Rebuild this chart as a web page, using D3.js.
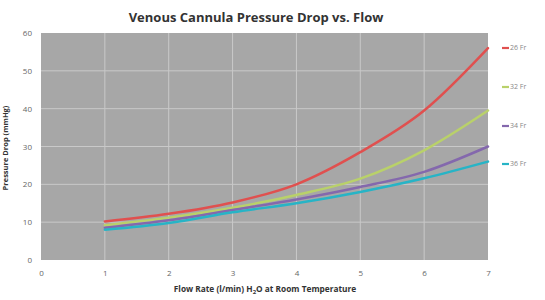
<!DOCTYPE html>
<html><head><meta charset="utf-8">
<script src="https://cdn.jsdelivr.net/npm/d3@7"></script>
<style>body{margin:0;background:#fff}svg{display:block}</style>
</head><body><svg id="c" width="545" height="300"></svg>
<script>
const flow = [1, 2, 3, 4, 5, 6, 7];
const xTicks = [0, 1, 2, 3, 4, 5, 6, 7];
const yTicks = [0, 10, 20, 30, 40, 50, 60];
const seriesNames = ["26 Fr", "32 Fr", "34 Fr", "36 Fr"];
const fr26 = [10.2, 12.2, 15.2, 20.0, 28.5, 39.5, 56.0];
const fr32 = [9.2, 11.2, 13.8, 17.2, 21.5, 29.0, 39.5];
const fr34 = [8.5, 10.5, 13.2, 16.0, 19.3, 23.3, 30.0];
const fr36 = [8.0, 9.8, 12.6, 15.0, 18.0, 21.6, 26.0];
const colors = ["#e0504f", "#b9d16a", "#8468ad", "#27b4c6"];
const series = [fr26, fr32, fr34, fr36];

const svg = d3.select("#c");
const m = {l: 41, r: 57, t: 33, b: 40};
const W = 545, H = 300;
const x = d3.scaleLinear().domain([0, 7]).range([m.l, W - m.r]);
const y = d3.scaleLinear().domain([0, 60]).range([H - m.b, m.t]);
const fmt = d3.format("d");

svg.append("rect").attr("x", x(0)).attr("y", y(60))
  .attr("width", x(7) - x(0)).attr("height", y(0) - y(60)).attr("fill", "#a7a7a7");

svg.append("g").selectAll("line").data(yTicks.slice(1, -1)).join("line")
  .attr("x1", x(0)).attr("x2", x(7)).attr("y1", d => y(d)).attr("y2", d => y(d))
  .attr("stroke", "#c9c9c9").attr("stroke-width", 1);
svg.append("g").selectAll("line").data(xTicks.slice(1, -1)).join("line")
  .attr("y1", y(0)).attr("y2", y(60)).attr("x1", d => x(d)).attr("x2", d => x(d))
  .attr("stroke", "#c9c9c9").attr("stroke-width", 1);

const yAxis = d3.axisLeft(y).tickValues(yTicks).tickFormat(fmt).tickSize(0).tickPadding(9);
const gy = svg.append("g").attr("transform", `translate(${x(0)},0)`).call(yAxis);
gy.select(".domain").remove();
gy.selectAll("text").attr("font-family", "Open Sans, sans-serif").attr("font-size", 8).attr("fill", "#666");

const xAxis = d3.axisBottom(x).tickValues(xTicks).tickFormat(fmt).tickSize(0).tickPadding(10);
const gx = svg.append("g").attr("transform", `translate(0,${y(0)})`).call(xAxis);
gx.select(".domain").remove();
gx.selectAll("text").attr("font-family", "Open Sans, sans-serif").attr("font-size", 8).attr("fill", "#666");

const line = d3.line().x((d, i) => x(flow[i])).y(d => y(d)).curve(d3.curveMonotoneX);
series.forEach((s, k) => {
  svg.append("path").datum(s).attr("d", line).attr("fill", "none")
    .attr("stroke", colors[k]).attr("stroke-width", 2.5).attr("stroke-linecap", "round");
});

const ly = [48, 87, 126, 164];
seriesNames.forEach((n, k) => {
  svg.append("line").attr("x1", 502).attr("x2", 509).attr("y1", ly[k]).attr("y2", ly[k])
    .attr("stroke", colors[k]).attr("stroke-width", 2.2);
  svg.append("text").attr("x", 510).attr("y", ly[k]).attr("dy", "0.35em")
    .attr("font-family", "Open Sans, sans-serif").attr("font-size", 7).attr("fill", "#888").text(n);
});

svg.append("text").attr("x", 256).attr("y", 22).attr("text-anchor", "middle")
  .attr("font-family", "Open Sans, sans-serif").attr("font-weight", "bold").attr("font-size", 13)
  .attr("fill", "#333").text("Venous Cannula Pressure Drop vs. Flow");

const xt = svg.append("text").attr("x", 265).attr("y", 292).attr("text-anchor", "middle")
  .attr("font-family", "Open Sans, sans-serif").attr("font-weight", "bold").attr("font-size", 8.3).attr("fill", "#333");
xt.append("tspan").text("Flow Rate (l/min) H");
xt.append("tspan").attr("font-size", 6).attr("dy", 2).text("2");
xt.append("tspan").attr("dy", -2).text("O at Room Temperature");

svg.append("text").attr("transform", "translate(8,148) rotate(-90)").attr("text-anchor", "middle")
  .attr("font-family", "Open Sans, sans-serif").attr("font-weight", "bold").attr("font-size", 7.5)
  .attr("fill", "#333").text("Pressure Drop (mmHg)");
</script></body></html>
